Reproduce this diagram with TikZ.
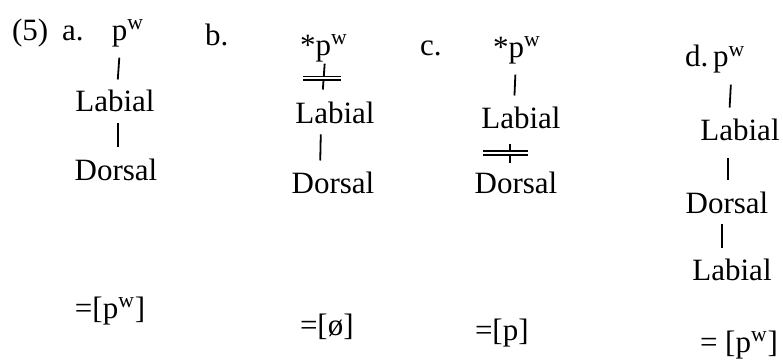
\documentclass[tikz,border=0pt]{standalone}
\usepackage{fontspec}
\setmainfont{Liberation Serif}

\begin{document}
\begin{tikzpicture}[
  x=0.5pt, y=-0.5pt,
  font=\fontsize{15.5}{18}\selectfont,
  every node/.style={inner sep=0pt, outer sep=0pt},
  seg/.style={anchor=base west},
  feat/.style={anchor=base},
  tick/.style={line width=0.9pt, shorten <=5.5pt, shorten >=5.5pt},
  bars/.style={line width=0.8pt, double, double distance=1pt},
]
  \useasboundingbox (0,0) rectangle (783,364);

  % example number and letters
  \node[seg] (ex) at (12,40) {(5)};
  \node[seg] (ia) at (62,40) {a.};
  \node[seg] (ib) at (205,46) {b.};
  \node[seg] (ic) at (420,55) {c.};
  \node[seg] (id) at (685,67) {d.};

  % a.
  \node[seg] (pa) at (112,40) {p\textsuperscript{w}};
  \node[feat] (la) at (115,112) {Labial};
  \node[feat] (da) at (116,180) {Dorsal};
  \node[seg] (ra) at (75,318) {=[p\textsuperscript{w}]};
  \draw[tick] ([xshift=-4pt]pa.south) -- ([xshift=1pt]la.north);
  \draw[tick] ([xshift=1.5pt]la.south) -- ([xshift=1pt]da.north);

  % b.
  \node[seg] (pb) at (300,55) {*p\textsuperscript{w}};
  \node[feat] (lb) at (335,123) {Labial};
  \node[feat] (db) at (333,193) {Dorsal};
  \node[seg] (rb) at (300,335) {=[ø]};
  \draw[tick, shorten <=1pt, shorten >=6pt] ([xshift=0.5pt]pb.south) -- ([xshift=-6.5pt]lb.north)
    coordinate[pos=0.42] (xb);
  \draw[bars] ([xshift=-10.5pt]xb) -- ([xshift=8.5pt]xb);
  \draw[tick] ([xshift=-7pt]lb.south) -- ([xshift=-6.5pt]db.north);

  % c.
  \node[seg] (pc) at (493,57) {*p\textsuperscript{w}};
  \node[feat] (lc) at (521,128) {Labial};
  \node[feat] (dc) at (516,193) {Dorsal};
  \node[seg] (rc) at (475,340) {=[p]};
  \draw[tick] ([xshift=-0.5pt]pc.south) -- ([xshift=-3.5pt]lc.north);
  \draw[tick, shorten <=8pt, shorten >=4pt] ([xshift=-5.5pt]lc.south) -- ([xshift=-3pt]dc.north)
    coordinate[pos=0.57] (xc);
  \draw[bars] ([xshift=-13.5pt]xc) -- ([xshift=9pt]xc);

  % d.
  \node[seg] (pd) at (713,67) {p\textsuperscript{w}};
  \node[feat] (ld) at (740,140) {Labial};
  \node[feat] (dd) at (727,213) {Dorsal};
  \node[feat] (le) at (732,280) {Labial};
  \node[seg] (rd) at (700,352) {= [p\textsuperscript{w}]};
  \draw[tick] ([xshift=1.2pt]pd.south) -- ([xshift=-5.5pt]ld.north);
  \draw[tick, shorten <=9pt] ([xshift=-6pt]ld.south) -- ([xshift=0.5pt]dd.north);
  \draw[tick, shorten <=5.5pt, shorten >=5pt] ([xshift=-2.5pt]dd.south) -- ([xshift=-5pt]le.north);
\end{tikzpicture}
\end{document}
